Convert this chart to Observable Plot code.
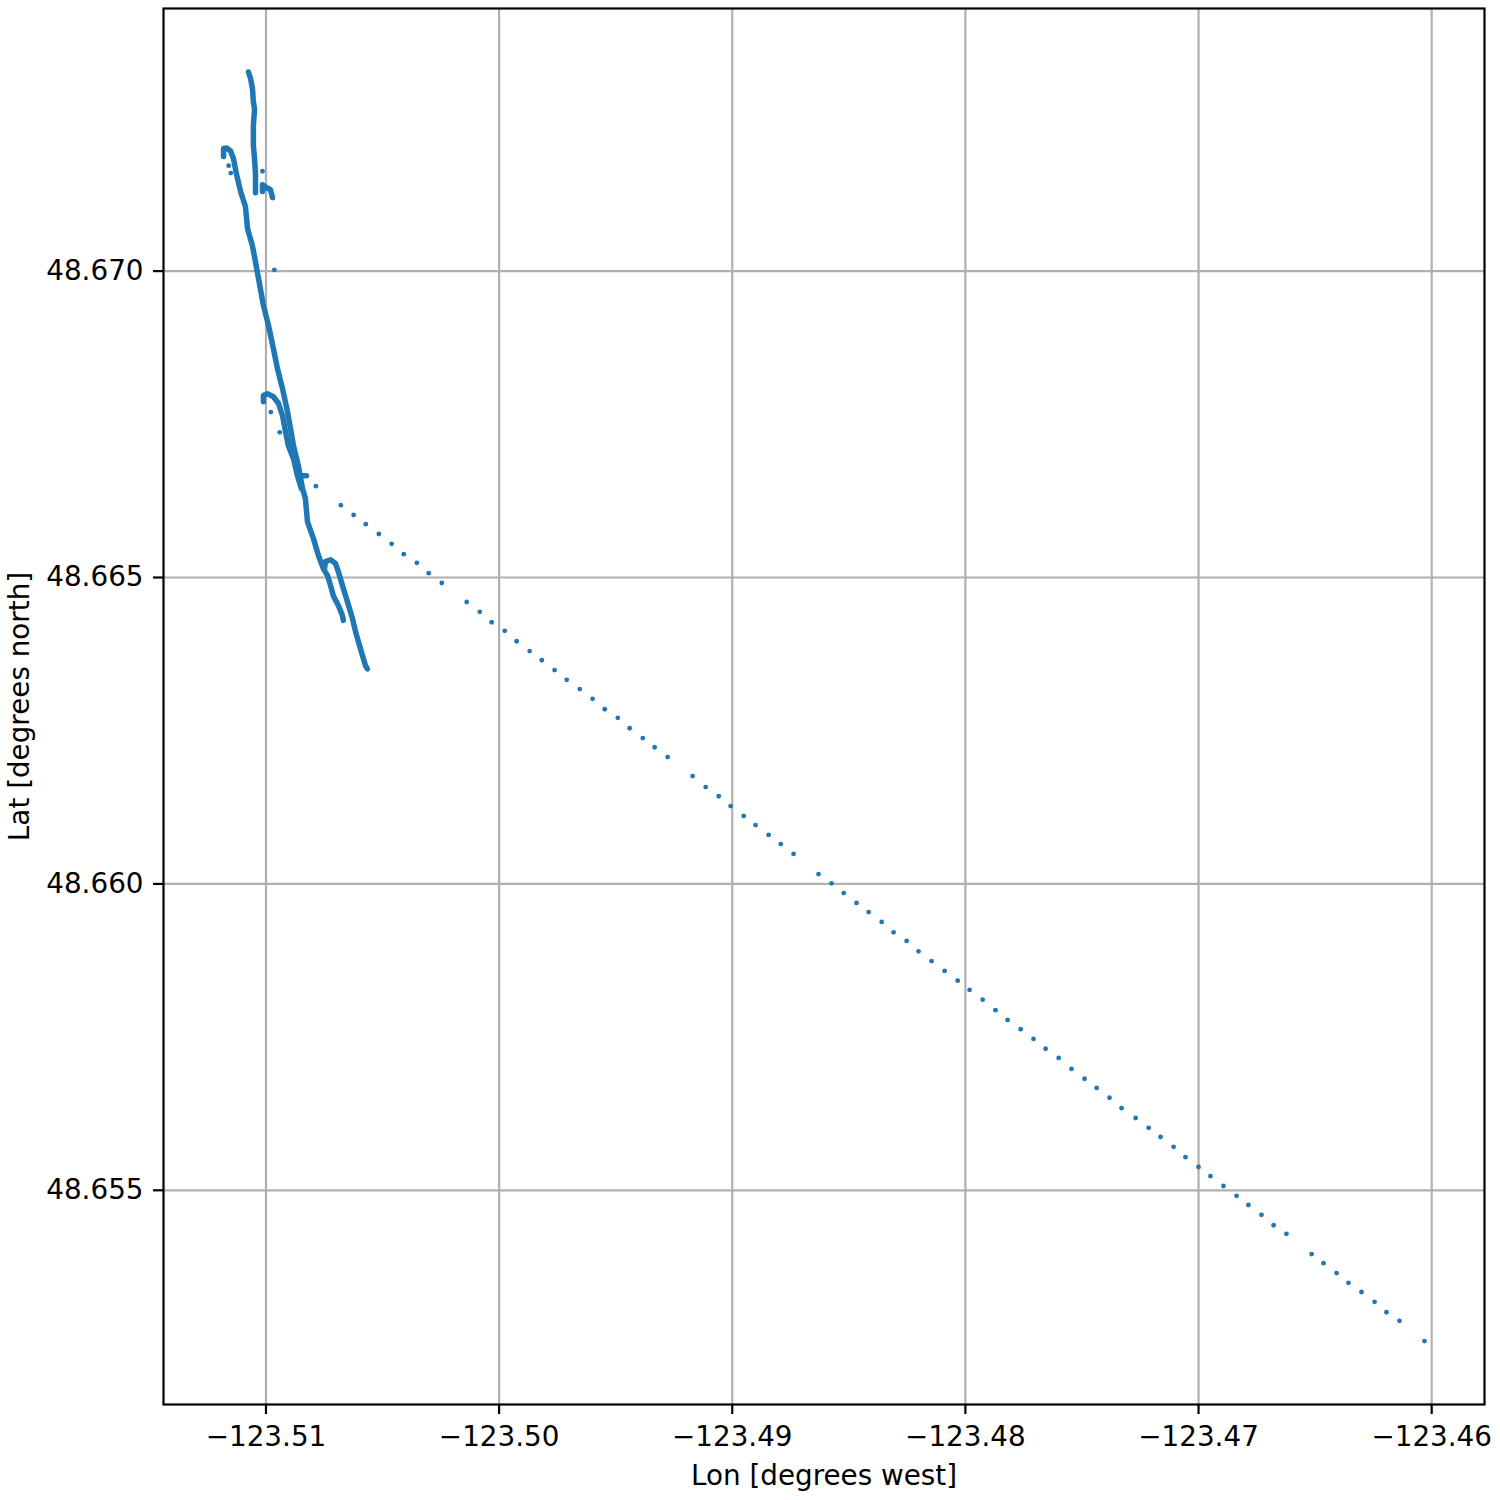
<!DOCTYPE html>
<html>
<head>
<meta charset="utf-8">
<script src="https://cdn.jsdelivr.net/npm/d3@7"></script>
<script src="https://cdn.jsdelivr.net/npm/@observablehq/plot@0.6"></script>
<style>
  html, body { margin: 0; padding: 0; background: white; }
  #chart svg { display: block; }
</style>
</head>
<body>
<div id="chart"></div>
<script>
// ---- Data ----
const xTicks = [-123.51, -123.50, -123.49, -123.48, -123.47, -123.46];
const yTicks = [48.655, 48.660, 48.665, 48.670];
const xLabel = "Lon [degrees west]";
const yLabel = "Lat [degrees north]";

// dense track pieces
const trackA_lon = [-123.51075, -123.51066, -123.51058, -123.51054, -123.51049, -123.51054, -123.51054, -123.51049, -123.51045, -123.51045];
const trackA_lat = [48.67325, 48.67314, 48.67298, 48.67276, 48.67265, 48.67237, 48.67205, 48.67183, 48.67159, 48.67128];

const trackB_lon = [-123.51015, -123.51015, -123.50998, -123.50981, -123.50972];
const trackB_lat = [48.67130, 48.67141, 48.67136, 48.67133, 48.67120];

const trackC_lon = [-123.51182, -123.51182, -123.51169, -123.51152, -123.51139, -123.51127, -123.51109, -123.51088, -123.51079, -123.51058,
  -123.51045, -123.51032, -123.51011, -123.50989, -123.50968, -123.50951, -123.50929, -123.50908, -123.50895, -123.50882,
  -123.50861, -123.50843, -123.50831, -123.50822, -123.50796, -123.50775, -123.50753, -123.50736, -123.50723, -123.50711,
  -123.50689, -123.50672, -123.50668];
const trackC_lat = [48.67187, 48.67200, 48.67201, 48.67196, 48.67183, 48.67159, 48.67130, 48.67105, 48.67069, 48.67041,
  48.67015, 48.66988, 48.66944, 48.66911, 48.66873, 48.66841, 48.66808, 48.66771, 48.66743, 48.66715,
  48.66682, 48.66645, 48.66629, 48.66591, 48.66563, 48.66536, 48.66514, 48.66503, 48.66487, 48.66470,
  48.66454, 48.66438, 48.66430];

const trackD_lon = [-123.51011, -123.51011, -123.50994, -123.50968, -123.50946, -123.50929, -123.50916, -123.50904, -123.50882, -123.50865, -123.50848];
const trackD_lat = [48.66787, 48.66797, 48.66800, 48.66795, 48.66784, 48.66764, 48.66738, 48.66715, 48.66694, 48.66666, 48.66645];

const trackE_lon = [-123.50856, -123.50826];
const trackE_lat = [48.66666, 48.66666];

const trackF_lon = [-123.50749, -123.50745, -123.50723, -123.50702, -123.50689, -123.50672, -123.50651, -123.50629, -123.50616, -123.50595, -123.50573, -123.50565];
const trackF_lat = [48.66514, 48.66526, 48.66529, 48.66523, 48.66509, 48.66487, 48.66461, 48.66433, 48.66412, 48.66384, 48.66356, 48.66351];

// sparse points
const sparseLon = [-123.51160, -123.51151, -123.51015, -123.50964, -123.50979, -123.50941,
  -123.50786, -123.50679, -123.50624, -123.50572, -123.50516, -123.50461, -123.50409, -123.50353, -123.50302, -123.50246,
  -123.50139, -123.50083, -123.50032, -123.49976, -123.49925, -123.49869, -123.49817, -123.49762, -123.49710, -123.49654,
  -123.49599, -123.49547, -123.49491, -123.49440, -123.49384, -123.49333, -123.49277, -123.49170, -123.49114, -123.49058,
  -123.49007, -123.48951, -123.48900, -123.48844, -123.48792, -123.48737, -123.48630, -123.48574, -123.48522, -123.48467,
  -123.48415, -123.48359, -123.48308, -123.48252, -123.48201, -123.48145, -123.48089, -123.48033, -123.47982, -123.47926,
  -123.47871, -123.47819, -123.47763, -123.47708, -123.47656, -123.47600, -123.47545, -123.47489, -123.47437, -123.47382,
  -123.47330, -123.47270, -123.47214, -123.47163, -123.47107, -123.47056, -123.47000, -123.46949, -123.46893, -123.46837,
  -123.46786, -123.46730, -123.46678, -123.46623, -123.46515, -123.46464, -123.46408, -123.46357, -123.46301, -123.46245,
  -123.46194, -123.46138, -123.46031];
const sparseLat = [48.67172, 48.67160, 48.67163, 48.67002, 48.66770, 48.66737,
  48.66649, 48.66618, 48.66602, 48.66587, 48.66571, 48.66555, 48.66538, 48.66524, 48.66507, 48.66491,
  48.66460, 48.66444, 48.66427, 48.66413, 48.66396, 48.66380, 48.66365, 48.66349, 48.66333, 48.66318,
  48.66302, 48.66285, 48.66271, 48.66254, 48.66238, 48.66223, 48.66207, 48.66176, 48.66158, 48.66143,
  48.66127, 48.66111, 48.66096, 48.66080, 48.66065, 48.66049, 48.66016, 48.66001, 48.65985, 48.65969,
  48.65954, 48.65938, 48.65921, 48.65907, 48.65890, 48.65874, 48.65858, 48.65842, 48.65827, 48.65811,
  48.65794, 48.65778, 48.65763, 48.65747, 48.65731, 48.65716, 48.65698, 48.65682, 48.65667, 48.65651,
  48.65634, 48.65618, 48.65602, 48.65587, 48.65571, 48.65554, 48.65538, 48.65523, 48.65507, 48.65491,
  48.65476, 48.65460, 48.65443, 48.65429, 48.65396, 48.65381, 48.65365, 48.65349, 48.65334, 48.65318,
  48.65301, 48.65287, 48.65254];

// ---- Build tables ----
const segments = [
  ["A", trackA_lon, trackA_lat], ["B", trackB_lon, trackB_lat], ["C", trackC_lon, trackC_lat],
  ["D", trackD_lon, trackD_lat], ["E", trackE_lon, trackE_lat], ["F", trackF_lon, trackF_lat]
];
const trackRows = segments.flatMap(([seg, lons, lats]) => lons.map((lon, i) => ({seg, lon, lat: lats[i]})));
const sparseRows = sparseLon.map((lon, i) => ({lon, lat: sparseLat[i]}));

// axis limits with matplotlib-like 5% margins
const allLon = trackRows.map(d => d.lon).concat(sparseLon);
const allLat = trackRows.map(d => d.lat).concat(sparseLat);
const [lonMin, lonMax] = d3.extent(allLon);
const [latMin, latMax] = d3.extent(allLat);
const padX = (lonMax - lonMin) * 0.05, padY = (latMax - latMin) * 0.05;

const blue = "#1f77b4";
const fmtX = d => d.toFixed(2).replace("-", "\u2212");
const fmtY = d => d.toFixed(3);

const chart = Plot.plot({
  width: 1500,
  height: 1500,
  marginLeft: 163,
  marginRight: 16,
  marginTop: 8,
  marginBottom: 96,
  x: {domain: [lonMin - padX, lonMax + padX]},
  y: {domain: [latMin - padY, latMax + padY]},
  style: {fontFamily: "DejaVu Sans", fontSize: "27.8px", background: "white", color: "black"},
  marks: [
    Plot.gridX(xTicks, {stroke: "#b0b0b0", strokeOpacity: 1, strokeWidth: 2.2}),
    Plot.gridY(yTicks, {stroke: "#b0b0b0", strokeOpacity: 1, strokeWidth: 2.2}),
    Plot.line(trackRows, {x: "lon", y: "lat", z: "seg", stroke: blue, strokeWidth: 5.5, strokeLinecap: "round", strokeLinejoin: "round"}),
    Plot.dot(sparseRows, {x: "lon", y: "lat", r: 2.4, fill: blue, stroke: "none"}),
    Plot.frame({stroke: "black", strokeWidth: 2.2}),
    Plot.axisX(xTicks, {tickSize: 10, tickPadding: 12, tickFormat: fmtX, fontSize: 27.8, strokeWidth: 2.2, label: null}),
    Plot.axisY(yTicks, {tickSize: 10, tickPadding: 10, tickFormat: fmtY, fontSize: 27.8, strokeWidth: 2.2, label: null}),
    Plot.text([xLabel], {frameAnchor: "bottom", dy: 72, fontSize: 27.8, textAnchor: "middle", lineAnchor: "middle", text: d => d}),
    Plot.text([yLabel], {frameAnchor: "left", dx: -143, rotate: -90, fontSize: 27.8, textAnchor: "middle", lineAnchor: "middle", text: d => d})
  ]
});
document.getElementById("chart").appendChild(chart);
</script>
</body>
</html>
